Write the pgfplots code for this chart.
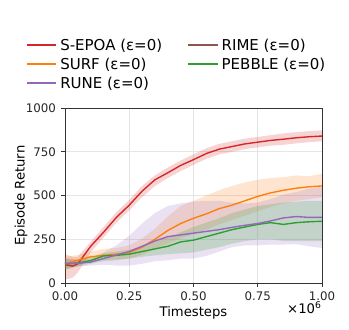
\documentclass[border=0pt]{standalone}
\usepackage{fontspec}
\setmainfont{DejaVu Sans}
\usepackage{pgfplots}
\pgfplotsset{compat=1.18}
\definecolor{cred}{HTML}{D62728}
\definecolor{corange}{HTML}{FF7F0E}
\definecolor{cpurple}{HTML}{9467BD}
\definecolor{cbrown}{HTML}{8C564B}
\definecolor{cgreen}{HTML}{2CA02C}
\begin{document}
\begin{tikzpicture}
\begin{axis}[
  scale only axis,
  width=185pt, height=126pt,
  xmin=0, xmax=1, ymin=0, ymax=1000,
  xtick={0,0.25,0.5,0.75,1},
  ytick={0,250,500,750,1000},
  xticklabel style={/pgf/number format/.cd, fixed, fixed zerofill, precision=2},
  yticklabel style={/pgf/number format/.cd, 1000 sep={}},
  /pgf/number format/assume math mode=true,
  scaled x ticks=false,
  tick label style={font=\fontsize{8.5}{10}\selectfont, text=black!85},
  label style={font=\fontsize{9.5}{11}\selectfont},
  xlabel={Timesteps}, ylabel={Episode Return},
  xlabel style={yshift=3pt}, ylabel style={yshift=-8pt},
  grid=major, major grid style={gray!20, line width=0.6pt},
  axis line style={black!80, line width=0.6pt},
  tick align=outside, tick pos=left, major tick length=3pt,
  tick style={black!80, line width=0.6pt},
  legend columns=2,
  legend style={draw=none, fill=none, at={(-0.17,1.43)}, anchor=north west,
    font=\fontsize{10.8}{12}\selectfont, row sep=0pt,
    /tikz/every even column/.append style={column sep=16pt}},
  legend cell align=left,
  legend image code/.code={\draw[#1] (0cm,0cm) -- (0.75cm,0cm);},
  after end axis/.code={
    \node[anchor=north east, font=\fontsize{9.5}{11}\selectfont, inner sep=0pt]
      at (rel axis cs:1.0,-0.105) {×10\textsuperscript{6}};
  },
]
% shaded bands: upper edge left to right, then lower edge right to left
\addplot[fill=cred, fill opacity=0.2, draw=none, forget plot] coordinates {
(0,165) (0.03,150) (0.05,150) (0.1,235) (0.15,320) (0.2,405) (0.25,475) (0.3,555) (0.35,615) (0.4,660) (0.45,700) (0.5,735) (0.55,770) (0.6,795) (0.65,810) (0.7,825) (0.75,835) (0.8,845) (0.85,855) (0.9,862) (0.95,868) (1.0,872)
(1.0,810) (0.95,805) (0.9,798) (0.85,790) (0.8,785) (0.75,775) (0.7,765) (0.65,750) (0.6,735) (0.55,710) (0.5,675) (0.45,640) (0.4,600) (0.35,555) (0.3,490) (0.25,415) (0.2,345) (0.15,260) (0.1,175) (0.05,60) (0.03,30) (0,20)};
\addplot[fill=corange, fill opacity=0.2, draw=none, forget plot] coordinates {
(0,150) (0.05,160) (0.1,180) (0.15,195) (0.2,200) (0.25,215) (0.3,255) (0.35,310) (0.4,380) (0.45,440) (0.5,470) (0.55,500) (0.6,530) (0.65,555) (0.7,575) (0.75,590) (0.8,600) (0.85,605) (0.9,615) (0.95,610) (1.0,625)
(1.0,490) (0.95,480) (0.9,470) (0.85,455) (0.8,435) (0.75,410) (0.7,385) (0.65,360) (0.6,335) (0.55,305) (0.5,280) (0.45,255) (0.4,225) (0.35,195) (0.3,160) (0.25,140) (0.2,135) (0.15,130) (0.1,125) (0.05,100) (0,75)};
\addplot[fill=cpurple, fill opacity=0.2, draw=none, forget plot] coordinates {
(0,140) (0.05,130) (0.1,140) (0.15,175) (0.2,215) (0.25,270) (0.3,340) (0.35,400) (0.4,440) (0.45,455) (0.5,465) (0.55,470) (0.6,470) (0.65,460) (0.7,455) (0.75,460) (0.8,480) (0.85,505) (0.9,520) (0.95,540) (1.0,550)
(1.0,200) (0.95,210) (0.9,222) (0.85,220) (0.8,220) (0.75,215) (0.7,215) (0.65,205) (0.6,180) (0.55,155) (0.5,140) (0.45,140) (0.4,130) (0.35,125) (0.3,110) (0.25,100) (0.2,100) (0.15,105) (0.1,100) (0.05,95) (0,85)};
\addplot[fill=cgreen, fill opacity=0.2, draw=none, forget plot] coordinates {
(0,140) (0.05,135) (0.1,145) (0.15,170) (0.2,180) (0.25,190) (0.3,210) (0.35,235) (0.4,260) (0.45,290) (0.5,320) (0.55,345) (0.6,370) (0.65,400) (0.7,420) (0.75,440) (0.8,450) (0.85,460) (0.9,465) (0.95,470) (1.0,470)
(1.0,240) (0.95,240) (0.9,240) (0.85,240) (0.8,250) (0.75,250) (0.7,240) (0.65,225) (0.6,205) (0.55,190) (0.5,175) (0.45,170) (0.4,165) (0.35,158) (0.3,150) (0.25,140) (0.2,130) (0.15,125) (0.1,110) (0.05,95) (0,75)};

% mean curves
\addplot[cred, line width=1pt, forget plot] coordinates {
(0,105) (0.03,97) (0.05,110) (0.1,210) (0.15,290) (0.2,375) (0.25,445) (0.3,525) (0.35,590) (0.4,630) (0.45,672) (0.5,705) (0.55,740) (0.6,765) (0.65,780) (0.7,795) (0.75,805) (0.8,815) (0.85,822) (0.9,830) (0.95,836) (1.0,840)};
\addplot[corange, line width=1pt, forget plot] coordinates {
(0,110) (0.05,130) (0.1,150) (0.15,158) (0.2,165) (0.25,175) (0.3,205) (0.35,250) (0.4,300) (0.45,340) (0.5,370) (0.55,395) (0.6,425) (0.65,445) (0.7,470) (0.75,495) (0.8,515) (0.85,530) (0.9,542) (0.95,550) (1.0,555)};
\addplot[cgreen, line width=1pt, forget plot] coordinates {
(0,108) (0.05,115) (0.1,128) (0.15,155) (0.2,158) (0.25,165) (0.3,180) (0.35,195) (0.4,210) (0.45,235) (0.5,245) (0.55,265) (0.6,285) (0.65,305) (0.7,320) (0.75,335) (0.8,345) (0.85,335) (0.9,345) (0.95,350) (1.0,353)};
\addplot[cpurple, line width=1pt, forget plot] coordinates {
(0,112) (0.05,112) (0.1,120) (0.15,140) (0.2,160) (0.25,180) (0.3,210) (0.35,240) (0.4,265) (0.45,275) (0.5,285) (0.55,295) (0.6,305) (0.65,318) (0.7,330) (0.75,340) (0.8,355) (0.85,372) (0.9,380) (0.95,375) (1.0,375)};

\addlegendimage{cred, line width=1.5pt}\addlegendentry{S-EPOA (ε=0)}
\addlegendimage{cbrown, line width=1.5pt}\addlegendentry{RIME (ε=0)}
\addlegendimage{corange, line width=1.5pt}\addlegendentry{SURF (ε=0)}
\addlegendimage{cgreen, line width=1.5pt}\addlegendentry{PEBBLE (ε=0)}
\addlegendimage{cpurple, line width=1.5pt}\addlegendentry{RUNE (ε=0)}
\end{axis}
\path (-46.8pt,-33.8pt) rectangle (204.5pt,203.8pt);
\end{tikzpicture}
\end{document}
